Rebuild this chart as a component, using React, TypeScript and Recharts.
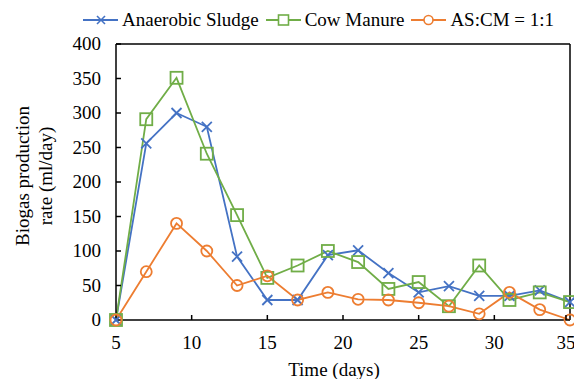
import React from 'react';
import { LineChart, Line, XAxis, YAxis, ReferenceLine } from 'recharts';

const days = [5, 7, 9, 11, 13, 15, 17, 19, 21, 23, 25, 27, 29, 31, 33, 35];
const sludge = [0, 256, 300, 280, 92, 29, 29, 94, 101, 68, 40, 49, 35, 35, 43, 26];
const manure = [0, 291, 351, 241, 152, 61, 79, 100, 84, 45, 55, 20, 79, 29, 40, 26];
const mix = [0, 70, 140, 100, 50, 64, 29, 40, 30, 29, 25, 20, 9, 40, 15, 0];
const xTicks = [5, 10, 15, 20, 25, 30, 35];
const yTicks = [0, 50, 100, 150, 200, 250, 300, 350, 400];

const data = days.map((d, i) => ({ day: d, sludge: sludge[i], manure: manure[i], mix: mix[i] }));

const BLUE = '#4472C4';
const GREEN = '#70AD47';
const ORANGE = '#ED7D31';
const FONT = '"Liberation Serif", "Times New Roman", serif';

// plot box edges (chart coords)
const LEFT = 116;
const BOTTOM = 320;

const XMark = (props: any) => {
  const { cx, cy } = props;
  if (cx == null || cy == null) return null;
  return (
    <g stroke={BLUE} strokeWidth={1.8}>
      <line x1={cx - 5} y1={cy - 5} x2={cx + 5} y2={cy + 5} />
      <line x1={cx - 5} y1={cy + 5} x2={cx + 5} y2={cy - 5} />
    </g>
  );
};

const SquareMark = (props: any) => {
  const { cx, cy } = props;
  if (cx == null || cy == null) return null;
  return <rect x={cx - 6} y={cy - 6} width={12} height={12} fill="none" stroke={GREEN} strokeWidth={1.8} />;
};

const CircleMark = (props: any) => {
  const { cx, cy } = props;
  if (cx == null || cy == null) return null;
  return <circle cx={cx} cy={cy} r={5.5} fill="none" stroke={ORANGE} strokeWidth={1.8} />;
};

const XTick = (props: any) => {
  const { x, payload } = props;
  return (
    <g>
      {payload.value !== 5 && <line x1={x} y1={BOTTOM} x2={x} y2={BOTTOM - 5} stroke="#000" strokeWidth={1.5} />}
      <text x={x} y={349} textAnchor="middle" style={{ fontFamily: FONT }} fontSize={19} fill="#000">
        {payload.value}
      </text>
    </g>
  );
};

const YTick = (props: any) => {
  const { y, payload } = props;
  return (
    <g>
      {payload.value !== 0 && <line x1={LEFT} y1={y} x2={LEFT + 5} y2={y} stroke="#000" strokeWidth={1.5} />}
      <text x={101} y={y + 6} textAnchor="end" style={{ fontFamily: FONT }} fontSize={19} fill="#000">
        {payload.value}
      </text>
    </g>
  );
};

const legendItems = [
  { name: 'Anaerobic Sludge', color: BLUE, mark: 'x' },
  { name: 'Cow Manure', color: GREEN, mark: 'square' },
  { name: 'AS:CM = 1:1', color: ORANGE, mark: 'circle' },
];

const LegendBox = () => (
  <div
    style={{
      position: 'absolute',
      top: 9,
      left: 83,
      display: 'flex',
      fontFamily: FONT,
      fontSize: 19,
      lineHeight: '22px',
      whiteSpace: 'nowrap',
    }}
  >
    {legendItems.map((it) => (
      <div key={it.name} style={{ display: 'flex', alignItems: 'center', marginRight: 7 }}>
        <svg width={35} height={14} style={{ marginRight: 4 }}>
          <line x1={0} y1={7} x2={35} y2={7} stroke={it.color} strokeWidth={1.8} />
          {it.mark === 'x' && (
            <g stroke={it.color} strokeWidth={1.6}>
              <line x1={14} y1={3} x2={22} y2={11} />
              <line x1={14} y1={11} x2={22} y2={3} />
            </g>
          )}
          {it.mark === 'square' && <rect x={12.5} y={2} width={10} height={10} fill="#fff" stroke={it.color} strokeWidth={1.6} />}
          {it.mark === 'circle' && <circle cx={17.5} cy={7} r={4.5} fill="#fff" stroke={it.color} strokeWidth={1.6} />}
        </svg>
        <span style={{ color: '#000' }}>{it.name}</span>
      </div>
    ))}
  </div>
);

const YLabel = () => (
  <g>
    <text transform="translate(29,176) rotate(-90)" textAnchor="middle" style={{ fontFamily: FONT }} fontSize={19} fill="#000">
      Biogas production
    </text>
    <text transform="translate(52,176) rotate(-90)" textAnchor="middle" style={{ fontFamily: FONT }} fontSize={19} fill="#000">
      rate (ml/day)
    </text>
  </g>
);

const XLabel = () => (
  <text x={334} y={376} textAnchor="middle" style={{ fontFamily: FONT }} fontSize={19} fill="#000">
    Time (days)
  </text>
);

export default function App() {
  return (
    <div style={{ position: 'absolute', left: 0, top: 0, width: 574, height: 379, background: '#fff' }}>
      <LineChart width={574} height={379} data={data} margin={{ top: 44, right: 4, bottom: 9, left: 56 }}>
        <XAxis
          dataKey="day"
          type="number"
          domain={[5, 35]}
          ticks={xTicks}
          tick={<XTick />}
          tickLine={false}
          axisLine={{ stroke: '#000', strokeWidth: 1.5 }}
          height={50}
          label={<XLabel />}
        />
        <YAxis
          type="number"
          domain={[0, 400]}
          ticks={yTicks}
          tick={<YTick />}
          tickLine={false}
          axisLine={{ stroke: '#000', strokeWidth: 1.5 }}
          width={60}
          label={<YLabel />}
        />
        <ReferenceLine y={400} stroke="#000" strokeWidth={1.5} />
        <ReferenceLine x={35} stroke="#000" strokeWidth={1.5} />
        <Line dataKey="sludge" name="Anaerobic Sludge" stroke={BLUE} strokeWidth={1.8} dot={<XMark />} isAnimationActive={false} />
        <Line dataKey="manure" name="Cow Manure" stroke={GREEN} strokeWidth={1.8} dot={<SquareMark />} isAnimationActive={false} />
        <Line dataKey="mix" name="AS:CM = 1:1" stroke={ORANGE} strokeWidth={1.8} dot={<CircleMark />} isAnimationActive={false} />
      </LineChart>
      <LegendBox />
    </div>
  );
}
